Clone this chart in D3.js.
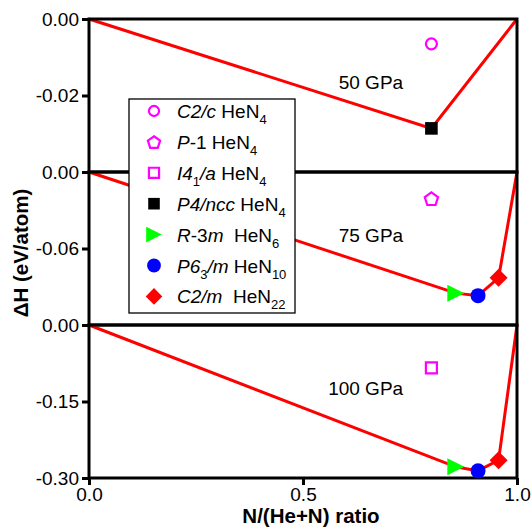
<!DOCTYPE html>
<html>
<head>
<meta charset="utf-8">
<script src="https://cdn.jsdelivr.net/npm/d3@7/dist/d3.min.js"></script>
<style>
  body { margin: 0; background: #fff; }
  text { font-family: "Liberation Sans", Arial, sans-serif; white-space: pre; }
</style>
</head>
<body>
<script>
// ---- data ----
const pressures = ["50 GPa", "75 GPa", "100 GPa"];
const yDomains = [[-0.04, 0], [-0.12, 0], [-0.30, 0]];
const yTicks = [[0, -0.02], [0, -0.06], [0, -0.15, -0.30]];
const xTicks = [0, 0.5, 1.0];

// phases (legend order)
const phaseNames = ["C2/c", "P-1", "I41/a", "P4/ncc", "R-3m", "P63/m", "C2/m"];
const phaseFormulas = ["HeN4", "HeN4", "HeN4", "HeN4", "HeN6", "HeN10", "HeN22"];
const phaseRatio = [0.8, 0.8, 0.8, 0.8, 0.857, 0.909, 0.957];

// formation enthalpy (eV/atom), null = not shown at that pressure
const dH50 = [-0.0065, null, null, -0.0286, null, null, null];
const dH75 = [null, -0.0208, null, null, -0.095, -0.097, -0.083];
const dH100 = [null, null, -0.084, null, -0.278, -0.286, -0.265];
const dHs = [dH50, dH75, dH100];

// phases on the convex hull at each pressure (indexes into phaseNames)
const hull50 = [3];
const hull75 = [4, 5, 6];
const hull100 = [4, 5, 6];
const hulls = [hull50, hull75, hull100];
const hullEnds = [[0, 0], [1, 0]]; // pure He, pure N

// legend label pieces: [text, kind]
const legendLabels = [
  [["C2/c", "i"], [" HeN", ""], ["4", "sub"]],
  [["P", "i"], ["-1 HeN", ""], ["4", "sub"]],
  [["I4", "i"], ["1", "sub"], ["/a", "i"], [" HeN", ""], ["4", "sub"]],
  [["P4/ncc", "i"], [" HeN", ""], ["4", "sub"]],
  [["R", "i"], ["-3", ""], ["m", "i"], ["  HeN", ""], ["6", "sub"]],
  [["P6", "i"], ["3", "sub"], ["/m", "i"], [" HeN", ""], ["10", "sub"]],
  [["C2/m", "i"], ["  HeN", ""], ["22", "sub"]]
];

// ---- layout ----
const W = 532, H = 527;
const left = 89, right = 517;
const panelTop = 19, panelH = 153;

const styles = [
  { shape: "circle",   color: "#ff00ff", open: true,  size: 5.5 },
  { shape: "pentagon", color: "#ff00ff", open: true,  size: 7 },
  { shape: "square",   color: "#ff00ff", open: true,  size: 5.5 },
  { shape: "square",   color: "#000000", open: false, size: 6.3 },
  { shape: "triangle", color: "#00ff00", open: false, size: 8.5 },
  { shape: "circle",   color: "#0000ff", open: false, size: 7.5 },
  { shape: "diamond",  color: "#ff0000", open: false, size: 9 }
];

function shapePath(shape, s) {
  if (shape === "circle") {
    return `M${s},0A${s},${s} 0 1,1 ${-s},0A${s},${s} 0 1,1 ${s},0Z`;
  }
  if (shape === "square") {
    return `M${-s},${-s}H${s}V${s}H${-s}Z`;
  }
  if (shape === "diamond") {
    return `M0,${-s}L${s},0L0,${s}L${-s},0Z`;
  }
  if (shape === "triangle") { // pointing right
    return `M${s},0L${-s},${-s}L${-s},${s}Z`;
  }
  if (shape === "pentagon") {
    let pts = d3.range(5).map(k => {
      let a = -Math.PI / 2 + k * 2 * Math.PI / 5;
      return [s * Math.cos(a), s * Math.sin(a) + 0.8];
    });
    return "M" + pts.map(p => p.join(",")).join("L") + "Z";
  }
}

function drawMarker(g, st, x, y, scale) {
  scale = scale || 1;
  g.append("path")
    .attr("d", shapePath(st.shape, st.size * scale))
    .attr("transform", `translate(${x},${y})`)
    .attr("fill", st.open ? "none" : st.color)
    .attr("stroke", st.color)
    .attr("stroke-width", st.open ? 2.2 : 0);
}

const svg = d3.select("body").append("svg")
  .attr("width", W).attr("height", H);

const x = d3.scaleLinear().domain([0, 1]).range([left, right]);

pressures.forEach((p, i) => {
  const top = panelTop + i * panelH;
  const bottom = top + panelH;
  const y = d3.scaleLinear().domain(yDomains[i]).range([bottom, top]);
  const g = svg.append("g");

  // hull line
  const hullPts = [hullEnds[0]]
    .concat(hulls[i].map(k => [phaseRatio[k], dHs[i][k]]))
    .concat([hullEnds[1]]);
  g.append("path")
    .attr("d", d3.line().x(d => x(d[0])).y(d => y(d[1]))(hullPts))
    .attr("fill", "none")
    .attr("stroke", "#ff0000")
    .attr("stroke-width", 3);

  // y axis
  const ax = g.append("g")
    .attr("transform", `translate(${left},0)`)
    .call(d3.axisLeft(y).tickValues(yTicks[i]).tickSize(7).tickPadding(3)
      .tickFormat(d => d.toFixed(2)));
  ax.select(".domain").remove();
  ax.selectAll("line").attr("stroke-width", 3);
  ax.selectAll("text").attr("font-size", 19).attr("fill", "#000");

  // panel box
  g.append("rect")
    .attr("x", left).attr("y", top)
    .attr("width", right - left).attr("height", panelH)
    .attr("fill", "none").attr("stroke", "#000").attr("stroke-width", 3);

  // pressure label
  g.append("text")
    .attr("x", x(0.734))
    .attr("y", top + 70)
    .attr("text-anchor", "end")
    .attr("font-size", 19)
    .text(p);

  // points
  dHs[i].forEach((v, k) => {
    if (v === null) return;
    drawMarker(g, styles[k], x(phaseRatio[k]), y(v));
  });
});

// x axis
const bottomY = panelTop + 3 * panelH;
const xa = svg.append("g")
  .attr("transform", `translate(0,${bottomY})`)
  .call(d3.axisBottom(x).tickValues(xTicks).tickSize(7).tickPadding(3)
    .tickFormat(d3.format(".1f")));
xa.select(".domain").remove();
xa.selectAll("line").attr("stroke-width", 3);
xa.selectAll("text").attr("font-size", 19).attr("fill", "#000");

// axis titles
svg.append("text")
  .attr("x", x(0.5) + 8)
  .attr("y", 523)
  .attr("text-anchor", "middle")
  .attr("font-size", 20.5)
  .attr("font-weight", "bold")
  .text("N/(He+N) ratio");

svg.append("text")
  .attr("transform", "translate(28,253) rotate(-90)")
  .attr("text-anchor", "middle")
  .attr("font-size", 20.5)
  .attr("font-weight", "bold")
  .text("ΔH (eV/atom)");

// legend
const lg = svg.append("g");
lg.append("rect")
  .attr("x", 129).attr("y", 99)
  .attr("width", 166).attr("height", 214)
  .attr("fill", "#fff").attr("stroke", "#000").attr("stroke-width", 1.3);

legendLabels.forEach((parts, k) => {
  const ry = 111 + k * 30.9;
  drawMarker(lg, styles[k], 154, ry, 0.92);
  const t = lg.append("text")
    .attr("x", 177).attr("y", ry + 7)
    .attr("font-size", 19);
  let prevSub = false;
  parts.forEach(([s, kind]) => {
    const ts = t.append("tspan").text(s);
    if (kind === "i") ts.attr("font-style", "italic");
    if (kind === "sub") {
      ts.attr("font-size", 13);
      if (!prevSub) ts.attr("dy", 6);
    } else if (prevSub) {
      ts.attr("dy", -6);
    }
    prevSub = kind === "sub";
  });
});
</script>
</body>
</html>
